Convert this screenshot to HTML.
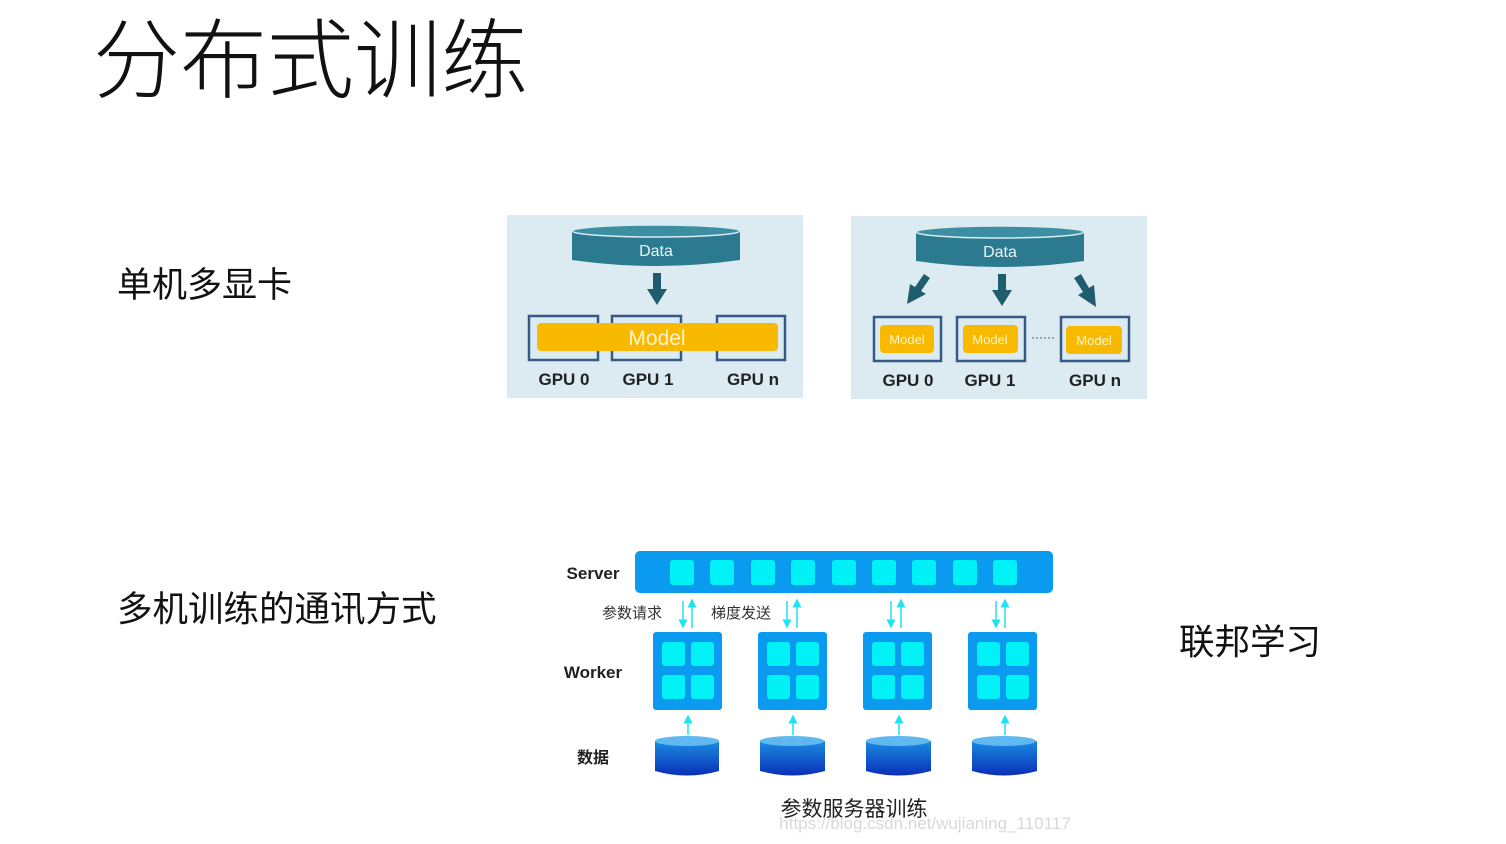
<!DOCTYPE html>
<html><head><meta charset="utf-8"><style>
html,body{margin:0;padding:0;background:#fff;}
svg{display:block;}
.cjk{font-family:"Liberation Sans","Noto Sans CJK SC",sans-serif;}
</style></head><body>
<svg width="1506" height="844" viewBox="0 0 1506 844" xmlns="http://www.w3.org/2000/svg">
<defs>
<linearGradient id="cyl" x1="0" y1="0" x2="0" y2="1">
<stop offset="0" stop-color="#1a8be0"/><stop offset="1" stop-color="#0a2fb8"/>
</linearGradient>
<marker id="ah" markerWidth="6" markerHeight="6" refX="3" refY="3" orient="auto"><path d="M0,0 L6,3 L0,6z" fill="#1fe3f2"/></marker>
</defs>
<g class="cjk" fill="#111">
<text x="93" y="91" font-size="87" font-weight="300">分布式训练</text>
<text x="117" y="297" font-size="35">单机多显卡</text>
<text x="117" y="621" font-size="35.5">多机训练的通讯方式</text>
<text x="1179" y="654" font-size="35.5">联邦学习</text>
</g>

<!-- panel 1 -->
<rect x="507" y="215" width="296" height="183" fill="#dcebf1"/>
<path d="M572,231 V260 Q656,272 740,260 V231 Z" fill="#2c7a8f"/>
<ellipse cx="656" cy="231" rx="84" ry="6" fill="#3c8ea3" stroke="#dcebf1" stroke-width="1.5"/>
<text x="656" y="256" font-family="Liberation Sans,sans-serif" font-size="16" fill="#eaf4f7" text-anchor="middle">Data</text>
<path d="M653,273 h8 v16 h6 l-10,16 l-10,-16 h6z" fill="#1f5c6d"/>
<g fill="none" stroke="#355a86" stroke-width="2.5">
<rect x="529" y="316" width="69" height="44"/><rect x="612" y="316" width="69" height="44"/><rect x="717" y="316" width="68" height="44"/>
</g>
<rect x="537" y="323" width="241" height="28" rx="4" fill="#f9b900"/>
<text x="657" y="345" font-family="Liberation Sans,sans-serif" font-size="21" fill="#fff4c9" text-anchor="middle">Model</text>
<g font-family="Liberation Sans,sans-serif" font-size="17" font-weight="bold" fill="#222" text-anchor="middle">
<text x="564" y="385">GPU 0</text><text x="648" y="385">GPU 1</text><text x="753" y="385">GPU n</text>
</g>

<!-- panel 2 -->
<rect x="851" y="216" width="296" height="183" fill="#dcebf1"/>
<path d="M916,232 V261 Q1000,273 1084,261 V232 Z" fill="#2c7a8f"/>
<ellipse cx="1000" cy="232" rx="84" ry="6" fill="#3c8ea3" stroke="#dcebf1" stroke-width="1.5"/>
<text x="1000" y="257" font-family="Liberation Sans,sans-serif" font-size="16" fill="#eaf4f7" text-anchor="middle">Data</text>
<path d="M998,274 h8 v16 h6 l-10,16 l-10,-16 h6z" fill="#1f5c6d"/>
<path d="M924,274 l6,4 l-9,13 l5,3 l-19,10 l3,-20 l5,3z" fill="#1f5c6d"/>
<path d="M1074,278 l7,-4 l8,14 l5,-3 l2,22 l-18,-12 l5,-3z" fill="#1f5c6d"/>
<g fill="none" stroke="#355a86" stroke-width="2.5">
<rect x="874" y="317" width="67" height="44"/><rect x="957" y="317" width="68" height="44"/><rect x="1061" y="317" width="68" height="44"/>
</g>
<g fill="#f9b900"><rect x="880" y="325" width="54" height="28" rx="4"/><rect x="963" y="325" width="55" height="28" rx="4"/><rect x="1066" y="326" width="56" height="28" rx="4"/></g>
<g font-family="Liberation Sans,sans-serif" font-size="13" fill="#fff4c9" text-anchor="middle">
<text x="907" y="344">Model</text><text x="990" y="344">Model</text><text x="1094" y="345">Model</text></g>
<text x="1043" y="341" font-family="Liberation Sans,sans-serif" font-size="12" fill="#333" text-anchor="middle">······</text>
<g font-family="Liberation Sans,sans-serif" font-size="17" font-weight="bold" fill="#222" text-anchor="middle">
<text x="908" y="386">GPU 0</text><text x="990" y="386">GPU 1</text><text x="1095" y="386">GPU n</text>
</g>

<!-- parameter server -->
<rect x="635" y="551" width="418" height="42" rx="5" fill="#0a9bf0"/>
<g fill="#00f2f7">
<rect x="670" y="560" width="24" height="25" rx="3"/><rect x="710" y="560" width="24" height="25" rx="3"/><rect x="751" y="560" width="24" height="25" rx="3"/>
<rect x="791" y="560" width="24" height="25" rx="3"/><rect x="832" y="560" width="24" height="25" rx="3"/><rect x="872" y="560" width="24" height="25" rx="3"/>
<rect x="912" y="560" width="24" height="25" rx="3"/><rect x="953" y="560" width="24" height="25" rx="3"/><rect x="993" y="560" width="24" height="25" rx="3"/>
</g>
<g font-family="Liberation Sans,'Noto Sans CJK SC',sans-serif" font-weight="bold" fill="#222" text-anchor="middle">
<text x="593" y="579" font-size="17">Server</text>
<text x="593" y="678" font-size="17">Worker</text>
<text x="593" y="763" font-size="16">数据</text>
</g>
<g font-family="Liberation Sans,'Noto Sans CJK SC',sans-serif" font-size="15" fill="#333" text-anchor="middle">
<text x="632" y="618">参数请求</text><text x="741" y="618">梯度发送</text>
</g>
<g stroke="#1fe3f2" stroke-width="1.5">
<line x1="683" y1="601" x2="683" y2="624" marker-end="url(#ah)"/><line x1="692" y1="628" x2="692" y2="603" marker-end="url(#ah)"/>
<line x1="787" y1="601" x2="787" y2="624" marker-end="url(#ah)"/><line x1="797" y1="628" x2="797" y2="603" marker-end="url(#ah)"/>
<line x1="891" y1="601" x2="891" y2="624" marker-end="url(#ah)"/><line x1="901" y1="628" x2="901" y2="603" marker-end="url(#ah)"/>
<line x1="996" y1="601" x2="996" y2="624" marker-end="url(#ah)"/><line x1="1005" y1="628" x2="1005" y2="603" marker-end="url(#ah)"/>
<line x1="688" y1="735" x2="688" y2="719" marker-end="url(#ah)"/><line x1="793" y1="735" x2="793" y2="719" marker-end="url(#ah)"/>
<line x1="899" y1="735" x2="899" y2="719" marker-end="url(#ah)"/><line x1="1005" y1="735" x2="1005" y2="719" marker-end="url(#ah)"/>
</g>
<g>
<rect x="653" y="632" width="69" height="78" rx="3" fill="#0a9bf0"/>
<rect x="758" y="632" width="69" height="78" rx="3" fill="#0a9bf0"/>
<rect x="863" y="632" width="69" height="78" rx="3" fill="#0a9bf0"/>
<rect x="968" y="632" width="69" height="78" rx="3" fill="#0a9bf0"/>
</g>
<g fill="#00f2f7">
<rect x="662" y="642" width="23" height="24" rx="3"/><rect x="691" y="642" width="23" height="24" rx="3"/><rect x="662" y="675" width="23" height="24" rx="3"/><rect x="691" y="675" width="23" height="24" rx="3"/>
<rect x="767" y="642" width="23" height="24" rx="3"/><rect x="796" y="642" width="23" height="24" rx="3"/><rect x="767" y="675" width="23" height="24" rx="3"/><rect x="796" y="675" width="23" height="24" rx="3"/>
<rect x="872" y="642" width="23" height="24" rx="3"/><rect x="901" y="642" width="23" height="24" rx="3"/><rect x="872" y="675" width="23" height="24" rx="3"/><rect x="901" y="675" width="23" height="24" rx="3"/>
<rect x="977" y="642" width="23" height="24" rx="3"/><rect x="1006" y="642" width="23" height="24" rx="3"/><rect x="977" y="675" width="23" height="24" rx="3"/><rect x="1006" y="675" width="23" height="24" rx="3"/>
</g>
<g>
<path d="M655,741 V771 Q687,780 719,771 V741 Z" fill="url(#cyl)"/><ellipse cx="687" cy="741" rx="32" ry="5" fill="#5fb8f0"/>
<path d="M760,741 V771 Q792,780 825,771 V741 Z" fill="url(#cyl)"/><ellipse cx="792" cy="741" rx="32" ry="5" fill="#5fb8f0"/>
<path d="M866,741 V771 Q898,780 931,771 V741 Z" fill="url(#cyl)"/><ellipse cx="898" cy="741" rx="32" ry="5" fill="#5fb8f0"/>
<path d="M972,741 V771 Q1004,780 1037,771 V741 Z" fill="url(#cyl)"/><ellipse cx="1004" cy="741" rx="32" ry="5" fill="#5fb8f0"/>
</g>
<text x="854" y="816" font-family="Liberation Sans,'Noto Sans CJK SC',sans-serif" font-size="21" fill="#222" text-anchor="middle">参数服务器训练</text>
<text x="925" y="829" font-family="Liberation Sans,sans-serif" font-size="17" fill="#d8d8d8" text-anchor="middle">https://blog.csdn.net/wujianing_110117</text>
</svg>
</body></html>
